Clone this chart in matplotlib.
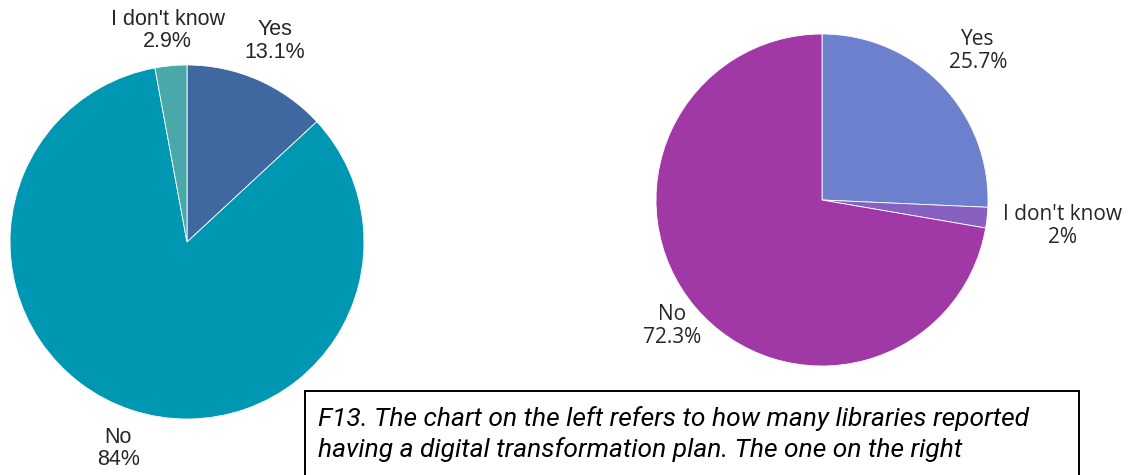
import matplotlib
matplotlib.use("Agg")
import matplotlib.pyplot as plt
import numpy as np
from matplotlib.patches import Rectangle

# Left chart: digital transformation plan
left_labels = ["Yes", "No", "I don't know"]
left_values = [13.1, 84.0, 2.9]
left_texts = ["13.1%", "84%", "2.9%"]
left_colors = ["#3F68A0", "#0097B2", "#4AA8A8"]

# Right chart
right_labels = ["Yes", "I don't know", "No"]
right_values = [25.7, 2.0, 72.3]
right_texts = ["25.7%", "2%", "72.3%"]
right_colors = ["#6C80CD", "#8760C2", "#A038A6"]

caption = ("F13. The chart on the left refers to how many libraries reported\n"
           "having a digital transformation plan. The one on the right")

W, H = 1129, 475
fig = plt.figure(figsize=(W / 100, H / 100), dpi=100)
ax = fig.add_axes([0, 0, 1, 1])


def draw_pie(values, labels, texts, colors, center, radius, dists, font, size):
    ax.pie(values, colors=colors, startangle=90, counterclock=False,
           center=center, radius=radius,
           wedgeprops=dict(edgecolor="white", linewidth=0.6))
    total = sum(values)
    start = 0.0
    for v, lab, t, d in zip(values, labels, texts, dists):
        mid = (start + v / 2) / total * 2 * np.pi
        start += v
        x = center[0] + d * radius * np.sin(mid)
        y = center[1] + d * radius * np.cos(mid)
        ax.text(x, y, f"{lab}\n{t}", ha="center", va="center",
                fontsize=size, family=font, color="#262626",
                linespacing=1.1)


draw_pie(left_values, left_labels, left_texts, left_colors,
         center=(187, H - 242), radius=177, dists=[1.24, 1.23, 1.2],
         font=["Liberation Sans", "DejaVu Sans"], size=15.5)
draw_pie(right_values, right_labels, right_texts, right_colors,
         center=(822, H - 200), radius=166, dists=[1.3, 1.46, 1.18],
         font=["Open Sans", "DejaVu Sans"], size=15)

# pie() resets the limits, so fix the pixel-sized canvas afterwards
ax.set_xlim(0, W)
ax.set_ylim(0, H)
ax.set_aspect("equal")
ax.axis("off")

# Caption box (runs past the bottom edge)
ax.add_patch(Rectangle((305, -20), 774, H - 391 + 20, facecolor="white",
                       edgecolor="black", linewidth=1.4, zorder=5))
ax.text(318, H - 406, caption, ha="left", va="top", fontsize=19,
        style="italic", family=["Roboto", "DejaVu Sans"],
        linespacing=1.3, color="black", zorder=6)

fig.savefig("out.png", dpi=100)
